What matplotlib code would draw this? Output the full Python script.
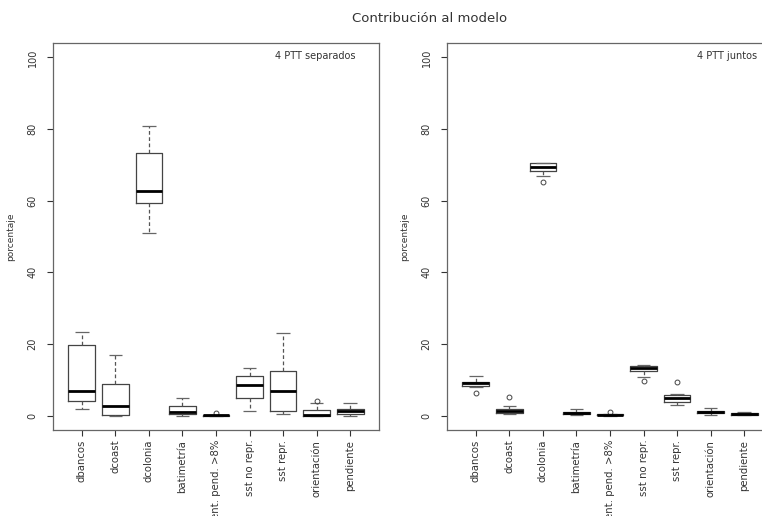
import matplotlib
matplotlib.use("Agg")
import matplotlib.pyplot as plt

plt.rcParams['font.family'] = ['DejaVu Sans']

categories = ["dbancos", "dcoast", "dcolonia", "batimetría", "orient. pend. >8%",
              "sst no repr.", "sst repr.", "orientación", "pendiente"]

# Panel 1: 4 PTT separados
sep_whislo = [2.0, 0.0, 51.0, 0.0, 0.0, 1.2, 0.4, 0.0, 0.0]
sep_q1     = [4.1, 0.1, 59.4, 0.4, 0.0, 4.8, 1.2, 0.0, 0.6]
sep_med    = [6.9, 2.8, 62.8, 1.0, 0.1, 8.6, 7.0, 0.1, 1.4]
sep_q3     = [19.7, 8.9, 73.2, 2.6, 0.2, 11.0, 12.4, 1.5, 2.0]
sep_whishi = [23.4, 16.8, 80.7, 4.8, 0.3, 13.2, 23.0, 3.4, 3.5]
sep_fliers = [[], [], [], [], [0.7], [], [], [4.1], []]

# Panel 2: 4 PTT juntos
jun_whislo = [8.0, 0.4, 66.8, 0.1, 0.0, 10.8, 3.1, 0.1, 0.1]
jun_q1     = [8.4, 0.8, 68.3, 0.45, 0.1, 12.4, 3.8, 0.7, 0.3]
jun_med    = [9.1, 1.2, 69.4, 0.7, 0.3, 13.3, 4.8, 1.0, 0.5]
jun_q3     = [9.5, 2.0, 70.4, 1.0, 0.4, 13.8, 5.7, 1.4, 0.7]
jun_whishi = [11.0, 2.6, 70.5, 1.8, 0.6, 14.2, 6.0, 2.2, 0.9]
jun_fliers = [[6.4], [5.1], [65.2], [], [1.1], [9.6], [9.3], [], []]

title = "Contribución al modelo"
ylabel = "porcentaje"
yticks = [0, 20, 40, 60, 80, 100]

W, H = 762, 516
fig = plt.figure(figsize=(W / 100, H / 100), dpi=100)

def make_stats(wl, q1, med, q3, wh, fl):
    out = []
    for i in range(len(categories)):
        out.append(dict(whislo=wl[i], q1=q1[i], med=med[i], q3=q3[i],
                        whishi=wh[i], fliers=fl[i], label=categories[i]))
    return out

def draw_panel(rect, stats, note, note_x):
    ax = fig.add_axes(rect)
    ax.bxp(stats, positions=range(1, len(categories) + 1), widths=0.8,
           showfliers=True,
           boxprops=dict(color="#444444", linewidth=0.9),
           medianprops=dict(color="black", linewidth=2.0),
           whiskerprops=dict(color="#555555", linewidth=0.9, linestyle=(0, (3, 2))),
           capprops=dict(color="#666666", linewidth=0.9, solid_capstyle="butt"),
           capwidths=0.4,
           flierprops=dict(marker="o", markersize=3.5, markerfacecolor="none",
                           markeredgecolor="#444444", markeredgewidth=0.7))
    ax.set_xlim(0.14, 9.86)
    ax.set_ylim(-4, 104)
    ax.set_yticks(yticks)
    ax.set_yticklabels([str(v) for v in yticks], rotation=90, va="center",
                       fontsize=7, color="#333333")
    ax.set_xticks(range(1, len(categories) + 1))
    ax.set_xticklabels(categories, rotation=90, fontsize=7.3, color="#333333",
                       va="top")
    ax.tick_params(axis="both", length=4, width=0.8, color="#333333")
    ax.tick_params(axis="y", pad=7)
    ax.tick_params(axis="x", pad=3)
    for sp in ax.spines.values():
        sp.set_color("#666666")
        sp.set_linewidth(0.9)
    ax.text(note_x, 100.5, note, transform=ax.transData, fontsize=7,
            color="#333333", ha="left", va="center")
    ax.set_ylabel(ylabel, fontsize=6.5, color="#333333")
    ax.yaxis.set_label_coords(-38 / 326, 0.5)
    return ax

ax_w = 326 / W
ax_h = 387 / H
ax_b = (H - 430) / H

draw_panel([53 / W, ax_b, ax_w, ax_h],
           make_stats(sep_whislo, sep_q1, sep_med, sep_q3, sep_whishi, sep_fliers),
           "4 PTT separados", 6.75)
draw_panel([447 / W, ax_b, ax_w, ax_h],
           make_stats(jun_whislo, jun_q1, jun_med, jun_q3, jun_whishi, jun_fliers),
           "4 PTT juntos", 7.6)

fig.text(430 / W, 1 - 18 / H, title, ha="center", va="center", fontsize=9.5,
         color="#333333")

fig.savefig("out.png", dpi=100)
